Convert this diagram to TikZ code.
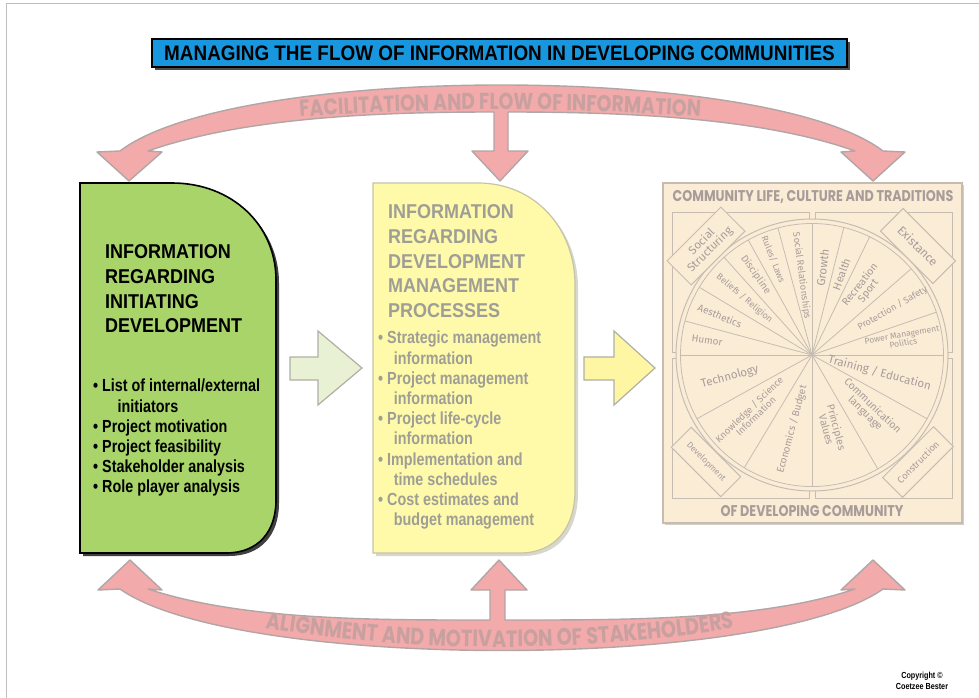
\documentclass[tikz,border=0pt]{standalone}
\usepackage{fontspec}
\setmainfont{Liberation Sans}
\newfontfamily\headfont[FakeStretch=0.9]{Liberation Sans}
\newfontfamily\narrowfont[FakeStretch=0.82]{Liberation Sans}
\newfontfamily\geofont[FakeStretch=0.82]{Poppins}
\newfontfamily\wheelfont{Fira Sans}
\usetikzlibrary{decorations.text}

\definecolor{titleblue}{RGB}{24,150,222}
\definecolor{bandpink}{RGB}{243,170,170}
\definecolor{bandline}{RGB}{178,165,165}
\definecolor{bandtext}{RGB}{200,160,160}
\definecolor{initgreen}{RGB}{168,212,106}
\definecolor{procyellow}{RGB}{255,250,170}
\definecolor{procline}{RGB}{196,196,170}
\definecolor{procshadow}{RGB}{215,215,205}
\definecolor{proctext}{RGB}{158,158,150}
\definecolor{commfill}{RGB}{251,236,214}
\definecolor{commline}{RGB}{198,188,178}
\definecolor{commshadow}{RGB}{212,206,200}
\definecolor{commtext}{RGB}{168,156,154}
\definecolor{framegray}{RGB}{190,190,190}
\definecolor{flowgreen}{RGB}{232,241,212}
\definecolor{flowyellow}{RGB}{255,246,164}
\definecolor{arrowline}{RGB}{175,175,165}

\tikzset{
  band/.style={fill=bandpink, draw=bandline, line width=1.4pt, line join=round},
  heading/.style={anchor=north west, align=left, inner sep=0pt, font=\headfont\bfseries\fontsize{20}{24.7}\selectfont},
  bullets/.style={anchor=north west, align=left, inner sep=0pt, font=\narrowfont\bfseries\fontsize{17.5}{20.2}\selectfont},
  flowarrow/.style={fill=#1, draw=arrowline, line width=1.2pt},
  commtitle/.style={text=commtext, inner sep=0pt, font=\geofont\bfseries\fontsize{15.5}{15.5}\selectfont},
  sector/.style={text=commtext, inner sep=0pt, align=center, font=\wheelfont\fontsize{#1}{#1}\selectfont},
  cornerbox/.style={draw=commline, fill=commfill, line width=1pt, text=commtext, inner sep=1pt, align=center, font=\wheelfont\fontsize{#1}{#1}\selectfont}
}

\begin{document}
\begin{tikzpicture}[x=1pt, y=1pt]
  \useasboundingbox (0,0) rectangle (979,-698);
  \draw[framegray, line width=1pt] (6,-698) -- (6,-4) -- (979,-4);

  \fill[black!70] (155,-42) rectangle (850,-70);
  \node[draw=black, line width=1.2pt, fill=titleblue, minimum width=695pt, minimum height=28pt, inner sep=0pt, font=\headfont\bfseries\fontsize{21}{21}\selectfont] (Title) at (499.5,-53) {MANAGING THE FLOW OF INFORMATION IN DEVELOPING COMMUNITIES};

  \draw[band] (120,-151) .. controls (235,-63) and (768,-63) .. (883,-151) -- (905,-152) -- (873,-181) -- (841,-152) -- (855,-151)
    .. controls (760,-117) and (620,-112) .. (508,-112) -- (508,-151) -- (528,-151) -- (500,-181) -- (472,-151) -- (494,-151) -- (494,-112)
    .. controls (380,-112) and (245,-117) .. (148,-151) -- (162,-152) -- (129,-181) -- (97,-152) -- cycle;
  \path[decorate, decoration={text along path, text align=center, text color=bandtext,
    text={|\geofont\bfseries\fontsize{23}{23}\selectfont|FACILITATION AND FLOW OF INFORMATION}}]
    (200,-127) .. controls (380,-104) and (620,-104) .. (800,-127);

  \draw[band] (120,-589) .. controls (235,-671) and (768,-671) .. (883,-589) -- (905,-590) -- (873,-560) -- (841,-590) -- (855,-589)
    .. controls (760,-621) and (620,-620) .. (505,-620) -- (505,-590) -- (527,-590) -- (499,-560) -- (471,-590) -- (490,-590) -- (490,-620)
    .. controls (380,-620) and (245,-621) .. (148,-589) -- (162,-590) -- (130,-560) -- (98,-590) -- cycle;
  \path[decorate, decoration={text along path, text align=center, text color=bandtext,
    text={|\geofont\bfseries\fontsize{23.5}{23.5}\selectfont|ALIGNMENT AND MOTIVATION OF STAKEHOLDERS}}]
    (205,-617) .. controls (400,-657) and (600,-657) .. (795,-617);

  \fill[black!75, xshift=3pt, yshift=-3pt] (80,-183) -- (172,-183) .. controls (232,-183) and (276,-225) .. (276,-280) -- (276,-500) .. controls (276,-532) and (258,-553) .. (226,-553) -- (80,-553) -- cycle;
  \draw[fill=initgreen, line width=1.6pt] (80,-183) -- (172,-183) .. controls (232,-183) and (276,-225) .. (276,-280) -- (276,-500) .. controls (276,-532) and (258,-553) .. (226,-553) -- (80,-553) -- cycle;
  \node[heading] (Initiating) at (105,-244.5) {INFORMATION\\REGARDING\\INITIATING\\DEVELOPMENT};
  \node[bullets] (InitiatingList) at (93,-379) {• List of internal/external\\\hspace*{1.4em}initiators\\• Project motivation\\• Project feasibility\\• Stakeholder analysis\\• Role player analysis};

  \draw[flowarrow=flowgreen] (290,-357) -- (318,-357) -- (318,-331) -- (362,-368) -- (318,-405) -- (318,-380) -- (290,-380) -- cycle;

  \fill[procshadow, xshift=3pt, yshift=-3pt] (373,-183) -- (478,-183) .. controls (535,-183) and (575,-228) .. (575,-285) -- (575,-490) .. controls (575,-528) and (555,-553) .. (520,-553) -- (373,-553) -- cycle;
  \draw[fill=procyellow, draw=procline, line width=1.2pt] (373,-183) -- (478,-183) .. controls (535,-183) and (575,-228) .. (575,-285) -- (575,-490) .. controls (575,-528) and (555,-553) .. (520,-553) -- (373,-553) -- cycle;
  \node[heading, text=proctext] (Processes) at (388,-204.5) {INFORMATION\\REGARDING\\DEVELOPMENT\\MANAGEMENT\\PROCESSES};
  \node[bullets, text=proctext] (ProcessesList) at (378,-331) {• Strategic management\\\hspace*{0.9em}information\\• Project management\\\hspace*{0.9em}information\\• Project life-cycle\\\hspace*{0.9em}information\\• Implementation and\\\hspace*{0.9em}time schedules\\• Cost estimates and\\\hspace*{0.9em}budget management};

  \draw[flowarrow=flowyellow] (584,-357) -- (614,-357) -- (614,-331) -- (655,-368) -- (614,-405) -- (614,-380) -- (584,-380) -- cycle;

  \fill[commshadow, xshift=2pt, yshift=-2pt] (663,-183) rectangle (962,-523);
  \draw[fill=commfill, draw=commline, line width=1.5pt] (663,-183) rectangle (962,-523);
  \node[commtitle] (Community) at (813,-197) {COMMUNITY LIFE, CULTURE AND TRADITIONS};
  \node[commtitle] (Developing) at (812,-511) {OF DEVELOPING COMMUNITY};

  \begin{scope}[shift={(812,-355)}]
    \foreach \qx/\qy in {-140/143, 3/143, -140/-3, 3/-3}
      \draw[commline, line width=0.9pt] (\qx,\qy) rectangle ++(137,-140);
    \draw[commline, line width=1pt, fill=commfill] (0,0) circle (136);
    \draw[commline, line width=0.8pt] (0,0) circle (131.5);
    \foreach \a in {0,19,41,64,76,90,105,119,132,149,165,180,209,239,270,300,331}
      \draw[commline, line width=0.8pt] (0,0) -- (\a:131.5);

    \node[sector=10, rotate=-8] (Humor) at (172:106) {Humor};
    \node[sector=10, rotate=-23] (Aesthetics) at (157:100) {Aesthetics};
    \node[sector=9, rotate=-40] (Beliefs) at (140:88) {Beliefs / Religion};
    \node[sector=10, rotate=-55] (Discipline) at (125:98) {Discipline};
    \node[sector=9, rotate=-68] (Rules) at (112:103) {Rules/ Laws};
    \node[sector=9.5, rotate=-82.5] (Relationships) at (97.5:80) {Social Relationships};
    \node[sector=11.5, rotate=83] (Growth) at (83:88) {Growth};
    \node[sector=11, rotate=70] (Health) at (70:86) {Health};
    \node[sector=10.5, rotate=52] (Recreation) at (52:85) {Recreation\\Sport};
    \node[sector=9.2, rotate=30] (Protection) at (30:93) {Protection / Safety};
    \node[sector=8.5, rotate=10] (Power) at (10:92) {Power Management\\Politics};
    \node[sector=11.5, rotate=15] (Technology) at (195:85) {Technology};
    \node[sector=9.5, rotate=44] (Knowledge) at (224:83) {Knowledge / Science\\Information};
    \node[sector=10, rotate=75] (Economics) at (255:77) {Economics / Budget};
    \node[sector=10.5, rotate=-75] (Principles) at (285:76) {Principles\\Values};
    \node[sector=10.5, rotate=-44] (Communication) at (316:79) {Communication\\language};
    \node[sector=11.5, rotate=-15] (Training) at (345:70) {Training / Education};

    \node[cornerbox=11.5, rotate=45, minimum width=76pt, minimum height=34pt] (Structuring) at (-106,109) {Social\\Structuring};
    \node[cornerbox=12, rotate=-45, minimum width=74pt, minimum height=32pt] (Existance) at (106,109) {Existance};
    \node[cornerbox=8.5, rotate=-45, minimum width=70pt, minimum height=28pt] (Development) at (-106,-107) {Development};
    \node[cornerbox=9.5, rotate=45, minimum width=72pt, minimum height=28pt] (Construction) at (106,-107) {Construction};
  \end{scope}

  \node[align=center, inner sep=0pt, font=\narrowfont\bfseries\fontsize{8.8}{11}\selectfont] (Copyright) at (922,-681) {Copyright ©\\Coetzee Bester};
\end{tikzpicture}
\end{document}
